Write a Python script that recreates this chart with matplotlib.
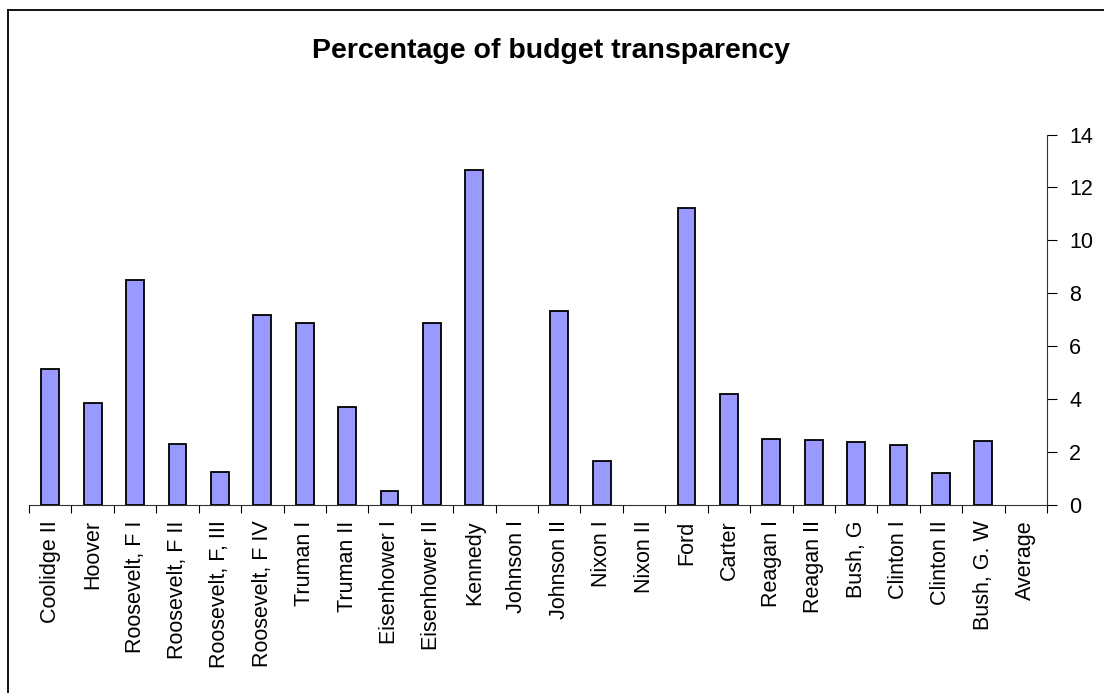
import matplotlib
matplotlib.use("Agg")
import matplotlib.pyplot as plt
from matplotlib.lines import Line2D
import numpy as np

plt.rcParams["font.family"] = ["Liberation Sans", "DejaVu Sans"]

presidents = [
    "Coolidge II", "Hoover", "Roosevelt, F I", "Roosevelt, F II", "Roosevelt, F, III",
    "Roosevelt, F IV", "Truman I", "Truman II", "Eisenhower I", "Eisenhower II",
    "Kennedy", "Johnson I", "Johnson II", "Nixon I", "Nixon II", "Ford", "Carter",
    "Reagan I", "Reagan II", "Bush, G", "Clinton I", "Clinton II", "Bush, G. W", "Average",
]
transparency = [
    5.15, 3.86, 8.50, 2.29, 1.24, 7.17, 6.89, 3.69, 0.53, 6.89, 12.65, 0.0,
    7.34, 1.67, 0.0, 11.23, 4.21, 2.49, 2.44, 2.39, 2.25, 1.20, 2.42, 0.0,
]
yticks = [0, 2, 4, 6, 8, 10, 12, 14]

W, H = 1104, 693
fig = plt.figure(figsize=(W / 100, H / 100), dpi=100)
ax = fig.add_axes([29 / W, 1 - 505 / H, (1047 - 29) / W, (505 - 134.5) / H])

x = np.arange(len(presidents))
# empty categories show no outline, like the original
edge_w = [1.3 if v > 0 else 0 for v in transparency]
ax.bar(x, transparency, width=0.42, color="#9999FF", edgecolor="black", linewidth=edge_w, zorder=2)

ax.set_xlim(-0.5, len(presidents) - 0.5)
ax.set_ylim(0, 14)
ax.set_yticks(yticks)
ax.yaxis.tick_right()
ax.tick_params(axis="y", direction="out", length=7, width=0.8, labelsize=15.5, pad=9)

# category ticks sit between bars, labels at bar centres
ax.set_xticks(np.arange(len(presidents) + 1) - 0.5)
ax.set_xticklabels([])
ax.set_xticks(x, minor=True)
ax.set_xticklabels(presidents, minor=True, rotation=90, fontsize=15.5, va="top", ha="center")
ax.tick_params(axis="x", which="major", direction="out", length=6, width=0.8)
ax.tick_params(axis="x", which="minor", length=0, pad=11)

for side in ["top", "left"]:
    ax.spines[side].set_visible(False)
for side in ["bottom", "right"]:
    ax.spines[side].set_linewidth(0.8)
    ax.spines[side].set_color("#333333")

fig.text(551 / W, 1 - 58 / H, "Percentage of budget transparency", ha="center", va="baseline",
         fontsize=20.5, fontweight="bold")

# outer chart frame (cropped at right and bottom)
fig.add_artist(Line2D([8 / W, 8 / W], [0, 1 - 10 / H], color="black", lw=1.3, transform=fig.transFigure))
fig.add_artist(Line2D([8 / W, 1], [1 - 10 / H, 1 - 10 / H], color="black", lw=1.3, transform=fig.transFigure))

fig.savefig("out.png", dpi=100)
